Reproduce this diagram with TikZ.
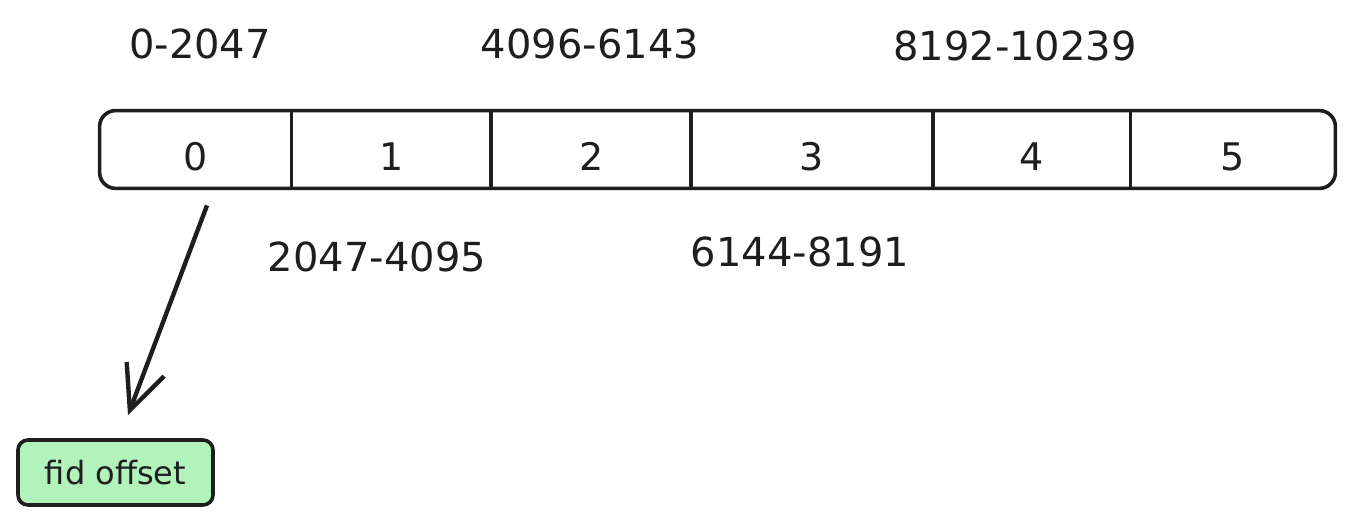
\documentclass[tikz,border=0pt]{standalone}
\usepackage{fontspec}
\setmainfont{DejaVu Sans}
\usepackage{tikz}
\usetikzlibrary{arrows.meta,positioning}
\definecolor{ink}{HTML}{1E1E1E}
\definecolor{fidgreen}{HTML}{B2F2BB}

\begin{document}
\begin{tikzpicture}[x=0.5pt,y=-0.5pt,
  cell/.style={minimum height=38.5pt,inner sep=0pt,text height=21pt,text=ink,font=\fontsize{19}{23}\selectfont},
  rangelabel/.style={text=ink,font=\fontsize{20}{24}\selectfont},
  frame/.style={draw=ink,line width=1.8pt},
  arr/.style={-{Straight Barb[length=22pt,width=20pt]},line width=2.2pt,draw=ink}]
\useasboundingbox (0,0) rectangle (1353,524);
\node [cell,minimum width=95.5pt] (c0) at (195.5,149.5) {0};
\node [cell,minimum width=99.5pt,right=0pt of c0] (c1) {1};
\node [cell,minimum width=99.5pt,right=0pt of c1] (c2) {2};
\node [cell,minimum width=120.5pt,right=0pt of c2] (c3) {3};
\node [cell,minimum width=98.5pt,right=0pt of c3] (c4) {4};
\node [cell,minimum width=102pt,right=0pt of c4] (c5) {5};
\draw [frame,rounded corners=8pt] (c0.north west) rectangle (c5.south east);
\foreach \i in {0,...,4}
  \draw [frame] (c\i.north east) -- (c\i.south east);
\node [rangelabel] (r0) at (200,44) {0-2047};
\node [rangelabel] (r2) at (590,44) {4096-6143};
\node [rangelabel] (r4) at (1015,46) {8192-10239};
\node [rangelabel] (r1) at (377,257) {2047-4095};
\node [rangelabel] (r3) at (800,252) {6144-8191};
\node [frame,fill=fidgreen,rounded corners=5pt,minimum width=97.5pt,minimum height=32.5pt,
  text=ink,font=\fontsize{16}{19}\selectfont] (fid) at (115.5,472.5) {fid offset};
\draw [arr] ([xshift=5.75pt,yshift=-8.5pt]c0.south) -- ([xshift=6.25pt,yshift=11.5pt]fid.north);
\end{tikzpicture}
\end{document}
